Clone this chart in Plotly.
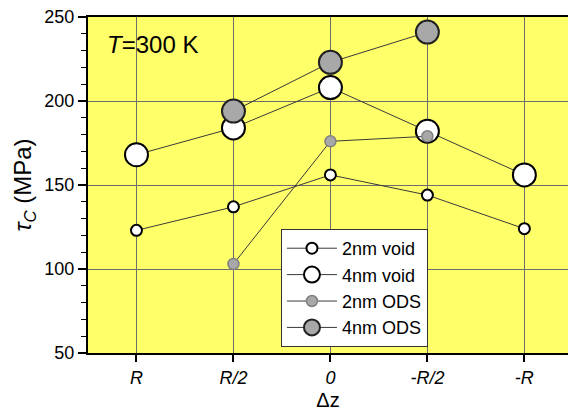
import plotly.graph_objects as go

# Position of the void / particle relative to the glide plane
positions = ["R", "R/2", "0", "-R/2", "-R"]
pos_index = [0, 1, 2, 3, 4]

# Critical resolved shear stress (MPa) at T = 300 K
void_2nm = [123, 137, 156, 144, 124]
void_4nm = [168, 184, 208, 182, 156]
ods_2nm_idx = [1, 2, 3]
ods_2nm = [103, 176, 179]
ods_4nm_idx = [1, 2, 3]
ods_4nm = [194, 223, 241]

line_col = "#3a3a3a"

fig = go.Figure()

fig.add_trace(go.Scatter(
    x=pos_index, y=void_2nm, mode="lines+markers", name="2nm void",
    line=dict(color=line_col, width=1),
    marker=dict(size=11, color="white", line=dict(color="black", width=2)),
))
fig.add_trace(go.Scatter(
    x=pos_index, y=void_4nm, mode="lines+markers", name="4nm void",
    line=dict(color=line_col, width=1),
    marker=dict(size=23, color="white", line=dict(color="black", width=2)),
))
fig.add_trace(go.Scatter(
    x=ods_2nm_idx, y=ods_2nm, mode="lines+markers", name="2nm ODS",
    line=dict(color=line_col, width=1),
    marker=dict(size=11, color="#a8a8a8", line=dict(color="#808080", width=1.5)),
))
fig.add_trace(go.Scatter(
    x=ods_4nm_idx, y=ods_4nm, mode="lines+markers", name="4nm ODS",
    line=dict(color=line_col, width=1),
    marker=dict(size=23, color="#a8a8a8", line=dict(color="#222222", width=2)),
))

fig.add_annotation(
    text="<i>T</i>=300 K", xref="paper", yref="paper",
    x=0.035, y=0.917, xanchor="left", yanchor="middle",
    showarrow=False, font=dict(size=24, color="black"),
)

fig.update_layout(
    width=568, height=418,
    margin=dict(l=88, r=0, t=17, b=65),
    paper_bgcolor="white",
    plot_bgcolor="#ffff6a",
    font=dict(family="Liberation Sans, Arial, sans-serif", color="black"),
    showlegend=True,
    legend=dict(
        x=0.402, y=0.369, xanchor="left", yanchor="top",
        bgcolor="white", bordercolor="#333333", borderwidth=1,
        font=dict(size=18), itemsizing="trace", itemwidth=50,
        tracegroupgap=0,
    ),
    xaxis=dict(
        range=[-0.5, 4.45],
        tickmode="array", tickvals=pos_index,
        ticktext=[f"<i>{p}</i>" for p in positions],
        tickfont=dict(size=18),
        ticks="outside", ticklen=7, tickwidth=1.5, tickcolor="black",
        showgrid=True, gridcolor="#6e6e6e", gridwidth=1,
        showline=True, linecolor="black", linewidth=2, mirror=True,
        zeroline=False,
        title=dict(text="Δz", font=dict(size=20), standoff=6),
    ),
    yaxis=dict(
        range=[50, 250],
        tickmode="array", tickvals=[50, 100, 150, 200, 250],
        tickfont=dict(size=18),
        ticks="outside", ticklen=8, tickwidth=1.5, tickcolor="black",
        minor=dict(dtick=10, ticks="outside", ticklen=5, tickcolor="black", tickwidth=1, showgrid=False),
        showgrid=True, gridcolor="#6e6e6e", gridwidth=1,
        showline=True, linecolor="black", linewidth=2,
        zeroline=False,
        title=dict(text="<i>τ<sub>C</sub></i> (MPa)", font=dict(size=24), standoff=6),
    ),
)

fig.write_html("out.html")
